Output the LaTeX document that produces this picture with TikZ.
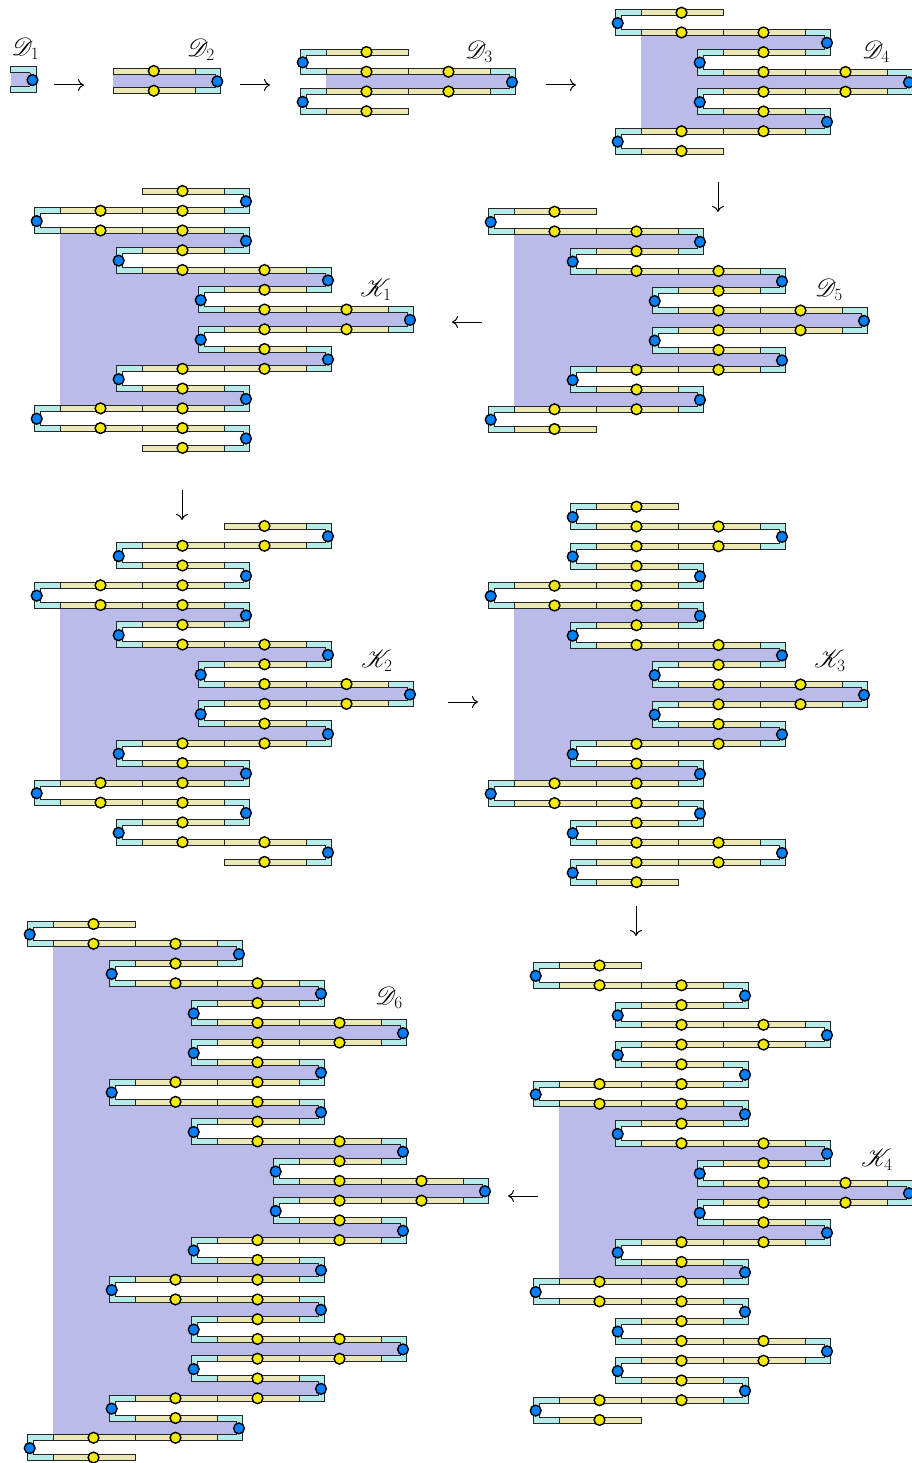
\documentclass[tikz,border=0pt]{standalone}
\usepackage{mathrsfs}
\usetikzlibrary{arrows.meta}
\definecolor{rpurp}{HTML}{BBBBEB}
\definecolor{rcyan}{HTML}{B5EBE8}
\definecolor{ryell}{HTML}{EBE8B5}
\definecolor{dotyell}{HTML}{F2EA00}
\definecolor{dotblue}{HTML}{0080FF}
\tikzset{
  cellc/.style={draw=black!85,line width=.7pt,fill=rcyan},
  celly/.style={draw=black!85,line width=.7pt,fill=ryell},
  edgeline/.style={draw=black!85,line width=.7pt},
  ydot/.style={draw=black,line width=1.4pt,fill=dotyell},
  bdot/.style={draw=black,line width=1.4pt,fill=dotblue},
  flow/.style={line width=1pt,-{Computer Modern Rightarrow[length=6pt,width=12pt]}},
  lab/.style={inner sep=0pt,font=\fontsize{25}{28}\selectfont}
}
\def\rdy{19.76}
\def\cellw{82}
\def\capw{25.4}
\def\hookw{5.7}
\def\hb{3}
\newcommand{\barcells}[5]{% y a b lcap rcap
  \pgfmathsetmacro\yt{#1-\hb}\pgfmathsetmacro\ybb{#1+\hb}%
  \ifnum#4=1
    \pgfmathsetmacro\xq{\rcz+#2*\cellw}\pgfmathsetmacro\xp{\xq-\capw}%
    \path[cellc] (\xp,\yt) rectangle (\xq,\ybb);
  \fi
  \ifnum#2<#3
    \pgfmathtruncatemacro\bm{#3-1}%
    \foreach \k in {#2,...,\bm}{%
      \pgfmathsetmacro\xp{\rcz+\k*\cellw}\pgfmathsetmacro\xq{\xp+\cellw}%
      \path[celly] (\xp,\yt) rectangle (\xq,\ybb);
    }%
    \foreach \k in {#2,...,\bm}{%
      \pgfmathsetmacro\xp{\rcz+(\k+.5)*\cellw-.5}%
      \path[ydot] (\xp,#1) circle[radius=5.4];
    }%
  \fi
  \ifnum#5=1
    \pgfmathsetmacro\xp{\rcz+#3*\cellw}\pgfmathsetmacro\xq{\xp+\capw}%
    \path[cellc] (\xp,\yt) rectangle (\xq,\ybb);
  \fi
}
% #1 c0, #2 top y, #3 first hook side (0 left, 1 right), #4 first free col,
% #5 hook cols, #6 last free col, #7/#8 first and last bar bounding the shaded part
\newcommand{\ribbon}[8]{%
  \def\rcz{#1}\def\rtop{#2}\def\rside{#3}%
  \foreach \h [count=\i] in {#5}{%
    \pgfmathtruncatemacro\ty{mod(\i-1+\rside,2)}%
    \ifnum\i<#7\relax\else\ifnum\i<#8\relax
      \pgfmathsetmacro\ya{\rtop+(\i-1)*\rdy-.5}\pgfmathsetmacro\yb{\rtop+\i*\rdy+.5}%
      \ifnum\ty=1
        \pgfmathsetmacro\xb{\rcz+\h*\cellw+\capw-1}%
      \else
        \pgfmathsetmacro\xb{\rcz+\h*\cellw-\capw+1}%
      \fi
      \fill[rpurp] (\rcz,\ya) rectangle (\xb,\yb);
    \fi\fi
  }%
  \gdef\pcol{#4}\gdef\pcap{0}%
  \foreach \h [count=\i] in {#5}{%
    \pgfmathtruncatemacro\ty{mod(\i-1+\rside,2)}%
    \pgfmathsetmacro\yc{\rtop+(\i-1)*\rdy}%
    \ifnum\ty=1
      \barcells{\yc}{\pcol}{\h}{\pcap}{1}
    \else
      \barcells{\yc}{\h}{\pcol}{1}{\pcap}
    \fi
    \xdef\pcol{\h}\gdef\pcap{1}\xdef\lastty{\ty}\xdef\nh{\i}%
  }%
  \pgfmathsetmacro\yc{\rtop+\nh*\rdy}%
  \ifnum\lastty=1
    \barcells{\yc}{#6}{\pcol}{0}{1}
  \else
    \barcells{\yc}{\pcol}{#6}{1}{0}
  \fi
  \foreach \h [count=\i] in {#5}{%
    \pgfmathtruncatemacro\ty{mod(\i-1+\rside,2)}%
    \pgfmathsetmacro\ya{\rtop+(\i-1)*\rdy}\pgfmathsetmacro\yb{\rtop+\i*\rdy}%
    \pgfmathsetmacro\ym{(\ya+\yb)/2+.5}%
    \pgfmathsetmacro\yat{\ya-\hb}\pgfmathsetmacro\yab{\ya+\hb}%
    \pgfmathsetmacro\ybt{\yb-\hb}\pgfmathsetmacro\ybb{\yb+\hb}%
    \ifnum\ty=1
      \pgfmathsetmacro\xo{\rcz+\h*\cellw+\capw}\pgfmathsetmacro\xn{\xo-\hookw}%
      \pgfmathsetmacro\xd{\rcz+\h*\cellw+22}%
    \else
      \pgfmathsetmacro\xo{\rcz+\h*\cellw-\capw}\pgfmathsetmacro\xn{\xo+\hookw}%
      \pgfmathsetmacro\xd{\rcz+\h*\cellw-23.3}%
    \fi
    \fill[rcyan] (\xo,\ya) rectangle (\xn,\yb);
    \path[edgeline] (\xo,\yat) -- (\xo,\ybb);
    \path[edgeline] (\xn,\yab) -- (\xn,\ybt);
    \path[bdot] (\xd,\ym) circle[radius=5.4];
  }%
}
\begin{document}
\begin{tikzpicture}[x=1pt,y=-1pt]
\useasboundingbox (0,0) rectangle (911,1463);
\ribbon{10.5}{69.7}{1}{0}{0}{0}{1}{2}
\ribbon{113.3}{71}{1}{0}{1}{0}{1}{2}
\ribbon{326}{52}{0}{1}{0,2,0}{1}{2}{3}
\ribbon{641}{12.7}{0}{1}{0,2,1,3,1,2,0}{1}{2}{7}
\ribbon{514}{211.7}{0}{1}{0,2,1,3,2,4,2,3,1,2,0}{1}{2}{11}
\ribbon{60}{191}{1}{1}{2,0,2,1,3,2,4,2,3,1,2,0,2}{1}{3}{12}
\ribbon{60}{526}{1}{2}{3,1,2,0,2,1,3,2,4,2,3,1,2,0,2,1,3}{2}{5}{14}
\ribbon{514}{506.7}{0}{2}{1,3,1,2,0,2,1,3,2,4,2,3,1,2,0,2,1,3,1}{2}{6}{15}
\ribbon{559}{965.5}{0}{1}{0,2,1,3,1,2,0,2,1,3,2,4,2,3,1,2,0,2,1,3,1,2,0}{1}{8}{17}
\ribbon{53}{924}{0}{1}{0,2,1,3,2,4,2,3,1,3,2,4,3,5,3,4,2,3,1,3,2,4,2,3,1,2,0}{1}{2}{27}
\node[lab] (lD1) at (25.5,49) {$\mathscr{D}_1$};
\node[lab] (lD2) at (201,49.5) {$\mathscr{D}_2$};
\node[lab] (lD3) at (479,52) {$\mathscr{D}_3$};
\node[lab] (lD4) at (876,51.5) {$\mathscr{D}_4$};
\node[lab] (lD5) at (829,290) {$\mathscr{D}_5$};
\node[lab] (lK1) at (376,290) {$\mathscr{K}_1$};
\node[lab] (lK2) at (377,661) {$\mathscr{K}_2$};
\node[lab] (lK3) at (830,661) {$\mathscr{K}_3$};
\node[lab] (lK4) at (877,1160) {$\mathscr{K}_4$};
\node[lab] (lD6) at (389,998) {$\mathscr{D}_6$};
\coordinate (a1s) at (54,85); \coordinate (a1e) at (84,85);
\coordinate (a2s) at (240,85); \coordinate (a2e) at (270,85);
\coordinate (a3s) at (546,85); \coordinate (a3e) at (576,85);
\coordinate (a4s) at (718,182); \coordinate (a4e) at (718,212);
\coordinate (a5s) at (482,322); \coordinate (a5e) at (452,322);
\coordinate (a6s) at (182,490); \coordinate (a6e) at (182,520);
\coordinate (a7s) at (448,702); \coordinate (a7e) at (478,702);
\coordinate (a8s) at (636,906); \coordinate (a8e) at (636,936);
\coordinate (a9s) at (538,1196); \coordinate (a9e) at (508,1196);
\foreach \n in {1,...,9}{\draw[flow] (a\n s) -- (a\n e);}
\end{tikzpicture}
\end{document}
